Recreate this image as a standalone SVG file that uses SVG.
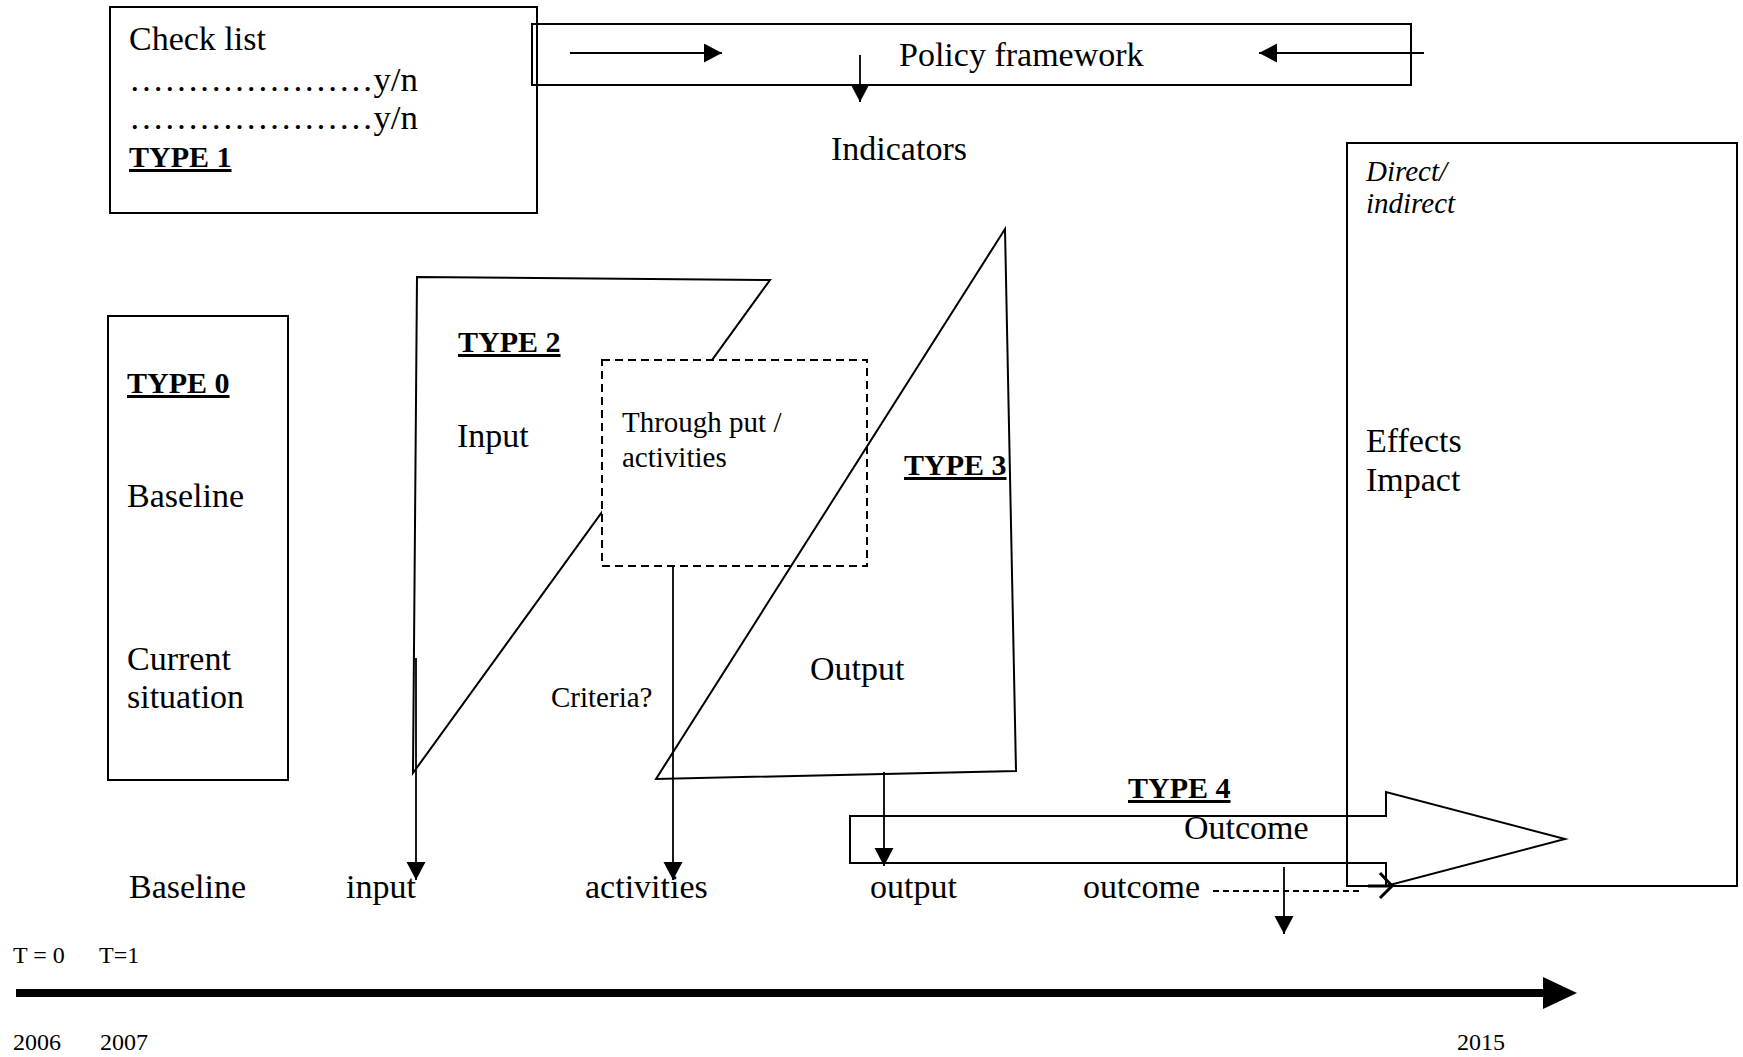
<svg xmlns="http://www.w3.org/2000/svg" width="1743" height="1057" viewBox="0 0 1743 1057">
<style>
text{font-family:"Liberation Serif","Times New Roman",serif;fill:#000}
.m{font-size:34px}
.s{font-size:29px}
.t{font-size:24px}
.i{font-size:29px;font-style:italic}
.b{font-size:30px;font-weight:bold;text-decoration:underline}
.ln{fill:none;stroke:#000;stroke-width:2}
.c{fill:none;stroke:#000;stroke-width:1.8}
</style>
<defs>
<marker id="ah" markerUnits="userSpaceOnUse" markerWidth="20" markerHeight="20" refX="18" refY="9.5" orient="auto">
<path d="M0,0 L18,9.5 L0,19 z" fill="#000"/>
</marker>
</defs>
<rect width="1743" height="1057" fill="#fff"/>

<g id="checklist">
<rect class="ln" x="110" y="7" width="427" height="206"/>
<text class="m" x="129" y="50">Check list</text>
<text class="m" x="129" y="91" textLength="289" lengthAdjust="spacingAndGlyphs">…………………y/n</text>
<text class="m" x="129" y="129" textLength="289" lengthAdjust="spacingAndGlyphs">…………………y/n</text>
<text class="b" x="129" y="167">TYPE 1</text>
</g>

<g id="policy">
<rect class="ln" x="532" y="24" width="879" height="61"/>
<text class="m" x="899" y="66">Policy framework</text>
</g>

<g id="indicators">
<text class="m" x="831" y="160">Indicators</text>
</g>

<g id="type0">
<rect class="ln" x="108" y="316" width="180" height="464"/>
<text class="b" x="127" y="393">TYPE 0</text>
<text class="m" x="127" y="507">Baseline</text>
<text class="m" x="127" y="670">Current</text>
<text class="m" x="127" y="708">situation</text>
</g>

<g id="type2">
<polygon class="ln" points="417,277 770,280 413,773"/>
<text class="b" x="458" y="352">TYPE 2</text>
<text class="m" x="457" y="447">Input</text>
</g>

<g id="throughput">
<rect x="602" y="360" width="265" height="206" fill="#fff" stroke="#000" stroke-width="2" stroke-dasharray="8,5"/>
<text class="s" x="622" y="432">Through put /</text>
<text class="s" x="622" y="467">activities</text>
</g>

<g id="type3">
<polygon class="ln" points="1005,229 1016,771 656,779"/>
<text class="b" x="904" y="475">TYPE 3</text>
<text class="m" x="810" y="680">Output</text>
</g>

<g id="criteria">
<text class="s" x="551" y="707">Criteria?</text>
</g>

<g id="effects">
<rect class="ln" x="1347" y="143" width="390" height="743"/>
<text class="i" x="1366" y="181">Direct/</text>
<text class="i" x="1366" y="213">indirect</text>
<text class="m" x="1366" y="452">Effects</text>
<text class="m" x="1366" y="491">Impact</text>
</g>

<g id="type4">
<polygon class="ln" points="850,816 1386,816 1386,792 1565,839 1386,886 1386,863 850,863"/>
<text class="b" x="1128" y="798">TYPE 4</text>
<text class="m" x="1184" y="839">Outcome</text>
</g>

<g id="bottom-labels">
<text class="m" x="129" y="898">Baseline</text>
<text class="m" x="346" y="898">input</text>
<text class="m" x="585" y="898">activities</text>
<text class="m" x="870" y="898">output</text>
<text class="m" x="1083" y="898">outcome</text>
</g>

<g id="timeline">
<text class="t" x="13" y="963">T = 0</text>
<text class="t" x="99" y="963">T=1</text>
<line x1="16" y1="993" x2="1545" y2="993" stroke="#000" stroke-width="8"/>
<polygon points="1543,977 1577,993 1543,1009" fill="#000"/>
<text class="t" x="13" y="1050">2006</text>
<text class="t" x="100" y="1050">2007</text>
<text class="t" x="1457" y="1050">2015</text>
</g>

<g id="connectors">
<line class="c" x1="570" y1="53" x2="722" y2="53" marker-end="url(#ah)"/>
<line class="c" x1="1424" y1="53" x2="1259" y2="53" marker-end="url(#ah)"/>
<line class="c" x1="860" y1="55" x2="860" y2="102" marker-end="url(#ah)"/>
<line class="c" x1="416" y1="658" x2="416" y2="880" marker-end="url(#ah)"/>
<line class="c" x1="673" y1="566" x2="673" y2="880" marker-end="url(#ah)"/>
<line class="c" x1="884" y1="772" x2="884" y2="866" marker-end="url(#ah)"/>
<line class="c" x1="1284" y1="867" x2="1284" y2="934" marker-end="url(#ah)"/>
<line x1="1213" y1="891" x2="1362" y2="891" stroke="#000" stroke-width="2" stroke-dasharray="6,4"/>
<line x1="1368" y1="886" x2="1390" y2="886" stroke="#000" stroke-width="3"/>
<polyline points="1380,873 1392,886 1380,898" fill="none" stroke="#000" stroke-width="3"/>
</g>
</svg>
